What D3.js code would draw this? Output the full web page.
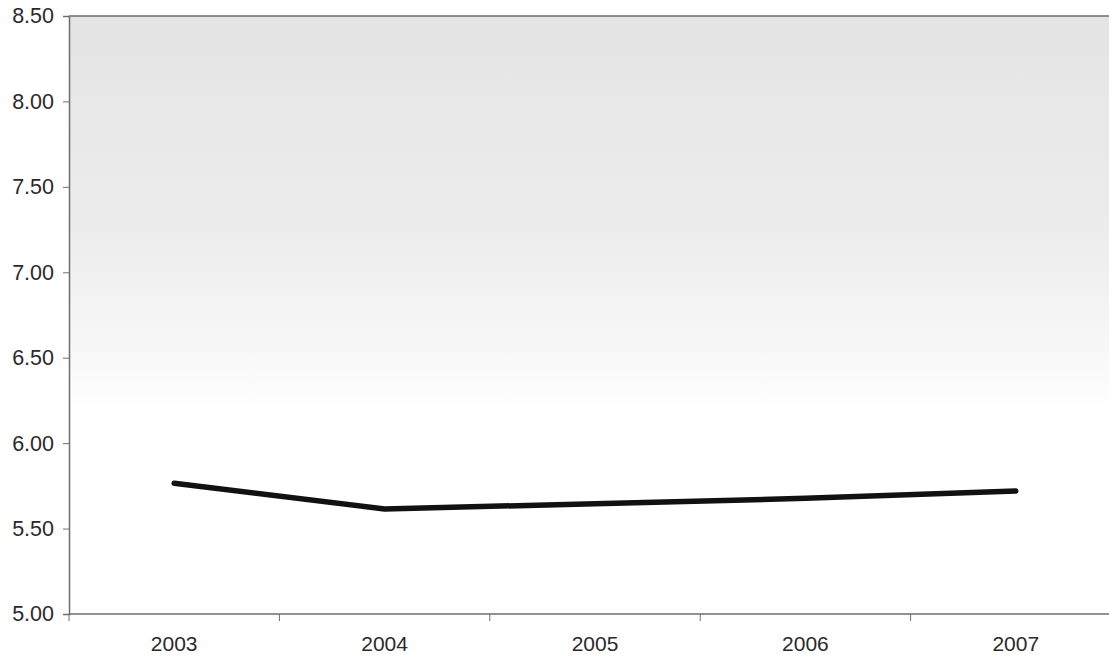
<!DOCTYPE html>
<html>
<head>
<meta charset="utf-8">
<script src="https://cdn.jsdelivr.net/npm/d3@7"></script>
<style>
  html, body { margin: 0; padding: 0; background: #fff; }
  svg { display: block; }
  text { font-family: "Liberation Sans", Arial, sans-serif; }
</style>
</head>
<body>
<svg id="chart" width="1109" height="657"></svg>
<script>
const years = ["2003", "2004", "2005", "2006", "2007"];
const values = [5.765, 5.615, 5.645, 5.677, 5.72];
const yTicks = [5.0, 5.5, 6.0, 6.5, 7.0, 7.5, 8.0, 8.5];

const svg = d3.select("#chart");
const mLeft = 69, mTop = 16, mBottom = 614, mRight = 1121;

const x = d3.scaleBand().domain(years).range([mLeft, mRight]).padding(0);
const y = d3.scaleLinear().domain([5, 8.5]).range([mBottom, mTop]);

const defs = svg.append("defs");
const grad = defs.append("linearGradient").attr("id", "bg").attr("x1", 0).attr("y1", 0).attr("x2", 0).attr("y2", 1);
grad.append("stop").attr("offset", "0%").attr("stop-color", "#e4e4e4");
grad.append("stop").attr("offset", "35%").attr("stop-color", "#ececec");
grad.append("stop").attr("offset", "55%").attr("stop-color", "#f7f7f7");
grad.append("stop").attr("offset", "66%").attr("stop-color", "#ffffff");
grad.append("stop").attr("offset", "100%").attr("stop-color", "#ffffff");

svg.append("rect")
  .attr("x", mLeft).attr("y", mTop)
  .attr("width", mRight - mLeft).attr("height", mBottom - mTop)
  .attr("fill", "url(#bg)");

// top border
svg.append("line")
  .attr("x1", mLeft).attr("x2", mRight)
  .attr("y1", y(8.5)).attr("y2", y(8.5))
  .attr("stroke", "#6e6e6e").attr("stroke-width", 1.5);

// Y axis
const yAxis = d3.axisLeft(y).tickValues(yTicks).tickFormat(d3.format(".2f")).tickSize(6).tickPadding(9);
const gy = svg.append("g").attr("transform", `translate(${mLeft},0)`).call(yAxis);
gy.select(".domain").attr("stroke", "#6e6e6e").attr("stroke-width", 1.5);
gy.selectAll(".tick line").attr("stroke", "#6e6e6e");
gy.selectAll(".tick text").attr("font-size", 21.5).attr("fill", "#2a2a2a");

// X axis with ticks at band boundaries
const gx = svg.append("g").attr("transform", `translate(0,${mBottom})`);
gx.append("line").attr("x1", mLeft).attr("x2", mRight).attr("stroke", "#6e6e6e").attr("stroke-width", 1.5);
const boundaries = years.map(d => x(d)).concat([x(years[years.length - 1]) + x.bandwidth()]);
gx.selectAll("line.tk").data(boundaries).join("line").attr("class", "tk")
  .attr("x1", d => d).attr("x2", d => d).attr("y1", 0).attr("y2", 7)
  .attr("stroke", "#6e6e6e");
gx.selectAll("text").data(years).join("text")
  .attr("x", d => x(d) + x.bandwidth() / 2)
  .attr("y", 37)
  .attr("text-anchor", "middle")
  .attr("font-size", 21).attr("fill", "#2a2a2a")
  .text(d => d);

// line
const line = d3.line()
  .x((d, i) => x(years[i]) + x.bandwidth() / 2)
  .y(d => y(d));
svg.append("path")
  .datum(values)
  .attr("d", line)
  .attr("fill", "none")
  .attr("stroke", "#111")
  .attr("stroke-width", 5.5)
  .attr("stroke-linejoin", "round")
  .attr("stroke-linecap", "round");
</script>
</body>
</html>
